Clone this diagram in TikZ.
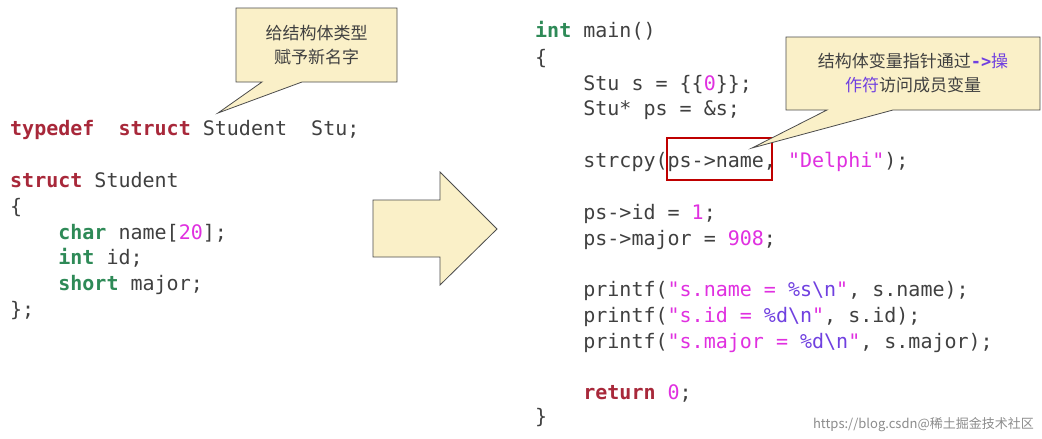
\documentclass[tikz,border=0pt]{standalone}
\usepackage{fontspec}
\setmonofont{DejaVu Sans Mono}
\newfontfamily\cjk{Noto Sans CJK SC}
\begin{document}
\begin{tikzpicture}[x=1pt,y=-1pt,
  code/.style={anchor=base west,inner sep=0pt,font=\fontsize{20}{24}\ttfamily,text=black!75},
  callout/.style={draw=black!70,line width=0.8pt},
  cn/.style={font=\fontsize{17}{24}\cjk,text=black!75,align=center}]
\definecolor{kwc}{HTML}{A8283A}
\definecolor{tyc}{HTML}{2E8A57}
\definecolor{nuc}{HTML}{E030E0}
\definecolor{fmc}{HTML}{7040E0}
\definecolor{bxc}{HTML}{FAF0C8}
\newcommand{\mykw}[1]{\textcolor{kwc}{\bfseries #1}}
\newcommand{\myty}[1]{\textcolor{tyc}{\bfseries #1}}
\newcommand{\mynu}[1]{\textcolor{nuc}{#1}}
\newcommand{\myfm}[1]{\textcolor{fmc}{#1}}
\useasboundingbox[fill=white] (0,0) rectangle (1042,439);
% left code
\node[code] (l1) at (10,135) {\mykw{typedef}\ \ \mykw{struct} Student\ \ Stu;};
\node[code] (l2) at (10,187) {\mykw{struct} Student};
\node[code] (l3) at (10,213) {\{};
\node[code] (l4) at (10,239) {\ \ \ \ \myty{char} name[\mynu{20}];};
\node[code] (l5) at (10,264) {\ \ \ \ \myty{int} id;};
\node[code] (l6) at (10,290) {\ \ \ \ \myty{short} major;};
\node[code] (l7) at (10,316) {\};};
% right code
\node[code] (r1) at (535,37) {\myty{int} main()};
\node[code] (r2) at (535,64) {\{};
\node[code] (r3) at (535,90) {\ \ \ \ Stu s = \{\{\mynu{0}\}\};};
\node[code] (r4) at (535,115) {\ \ \ \ Stu* ps = \&s;};
\node[code] (r5) at (535,167) {\ \ \ \ strcpy(ps->name, \mynu{"Delphi"});};
\node[code] (r6) at (535,219) {\ \ \ \ ps->id = \mynu{1};};
\node[code] (r7) at (535,245) {\ \ \ \ ps->major = \mynu{908};};
\node[code] (r8) at (535,296) {\ \ \ \ printf(\mynu{"s.name = }\myfm{\%s\textbackslash n}\mynu{"}, s.name);};
\node[code] (r9) at (535,322) {\ \ \ \ printf(\mynu{"s.id = }\myfm{\%d\textbackslash n}\mynu{"}, s.id);};
\node[code] (r10) at (535,348) {\ \ \ \ printf(\mynu{"s.major = }\myfm{\%d\textbackslash n}\mynu{"}, s.major);};
\node[code] (r11) at (535,399) {\ \ \ \ \mykw{return} \mynu{0};};
\node[code] (r12) at (535,423) {\}};
% red box
\draw[red!75!black,line width=1.3pt] (667,138) rectangle (772,180);
% callout 1
\coordinate (t1) at (218,113);
\draw[callout,fill=bxc] (236,8) -- (397,8) -- (397,82) -- (302,82) -- (t1) -- (262,82) -- (236,82) -- cycle;
\node[cn] (c1) at (316.5,45) {给结构体类型\\赋予新名字};
% callout 2
\coordinate (t2) at (752,148);
\draw[callout,fill=bxc] (786,37) -- (1040,37) -- (1040,110) -- (893,110) -- (t2) -- (827,110) -- (786,110) -- cycle;
\node[cn] (c2) at (913,73) {结构体变量指针通过\textcolor{fmc}{\ttfamily\bfseries->}\textcolor{fmc}{操}\\\textcolor{fmc}{作符}访问成员变量};
% big arrow
\draw[callout,fill=bxc] (373,200) -- (440,200) -- (440,172) -- (497,229) -- (440,285) -- (440,257) -- (373,257) -- cycle;
% watermark
\node[anchor=east,font=\fontsize{13}{15}\cjk,text=black!45,inner sep=0pt] (wm) at (1034,425) {https://blog.csdn@稀土掘金技术社区};
\end{tikzpicture}
\end{document}
